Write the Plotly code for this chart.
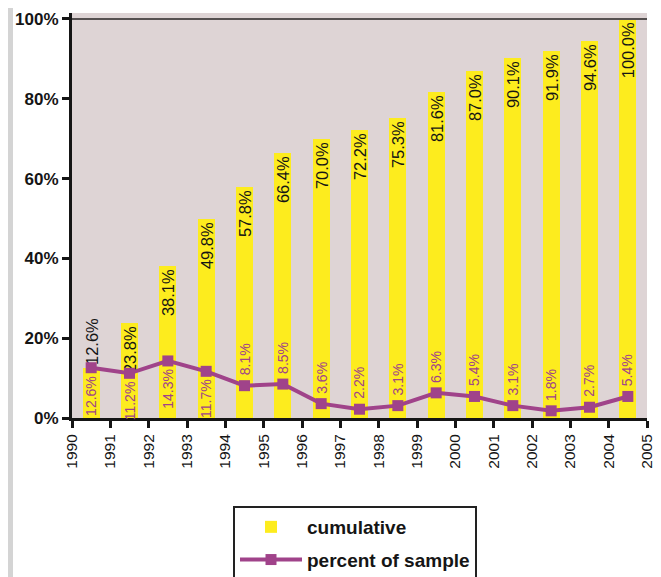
import plotly.graph_objects as go

years = list(range(1990, 2005))
tick_years = list(range(1990, 2006))
cumulative = [12.6, 23.8, 38.1, 49.8, 57.8, 66.4, 70.0, 72.2, 75.3, 81.6, 87.0, 90.1, 91.9, 94.6, 100.0]
percent = [12.6, 11.2, 14.3, 11.7, 8.1, 8.5, 3.6, 2.2, 3.1, 6.3, 5.4, 3.1, 1.8, 2.7, 5.4]
y_ticks = [0, 20, 40, 60, 80, 100]
y_ticktext = ["0%", "20%", "40%", "60%", "80%", "100%"]

FONT = "Liberation Sans, Arial, sans-serif"
YELLOW = "#fdec1e"
PURPLE = "#a0438a"
BG = "#ded4d5"
INK = "#151515"

xpos = [y + 0.5 for y in years]

fig = go.Figure()
fig.add_trace(go.Bar(
    x=xpos, y=cumulative, width=0.45, name="cumulative", legendgroup="a",
    marker=dict(color=YELLOW, line=dict(width=0)),
    text=[f"{v:.1f}%" for v in cumulative],
    textposition=["outside"] + ["inside"] * (len(cumulative) - 1),
    insidetextanchor="end", textangle=-90, constraintext="none", cliponaxis=False,
    textfont=dict(family=FONT, size=16.5, color=INK),
))
fig.add_trace(go.Scatter(
    x=xpos, y=percent, mode="lines+markers", name="percent of sample", legendgroup="b",
    line=dict(color=PURPLE, width=4),
    marker=dict(symbol="square", size=11, color=PURPLE),
))

for i, (xv, v) in enumerate(zip(xpos, percent)):
    below = i < 4
    fig.add_annotation(
        x=xv, y=v, text=f"{v:.1f}%", showarrow=False, textangle=-90,
        yanchor="top" if below else "bottom", yshift=-6 if below else 8,
        font=dict(family=FONT, size=14, color=PURPLE),
    )

# 100% reference line
fig.add_shape(type="line", xref="paper", x0=0, x1=1, yref="y", y0=100, y1=100,
              line=dict(color="#555050", width=2), layer="above")
# grey strip at left edge
fig.add_shape(type="rect", xref="paper", yref="paper",
              x0=-64 / 575, x1=-59 / 575, y0=-0.45, y1=1.03,
              fillcolor="#d4d4d4", line=dict(width=0), layer="below")

fig.update_layout(
    width=653, height=569,
    margin=dict(l=64, r=14, t=5, b=159, autoexpand=False),
    paper_bgcolor="white", plot_bgcolor=BG,
    showlegend=True, bargap=0,
    font=dict(family=FONT, color=INK),
    legend=dict(
        x=(233 - 72) / 575, y=(418 - 506) / 405, xanchor="left", yanchor="top",
        bordercolor="#222222", borderwidth=2, bgcolor="white",
        font=dict(family=FONT, size=19, color=INK, weight="bold"),
        itemwidth=62, traceorder="grouped", tracegroupgap=5,
    ),
    xaxis=dict(
        range=[1990, 2005], tickvals=tick_years, ticktext=[str(t) for t in tick_years],
        tickangle=-90, ticks="outside", ticklen=7, tickwidth=3, tickcolor=INK,
        showline=True, linecolor=INK, linewidth=3, showgrid=False, zeroline=False,
        automargin=False,
        tickfont=dict(family=FONT, size=15.5, color=INK),
    ),
    yaxis=dict(
        range=[0, 101.5], tickvals=y_ticks, ticktext=y_ticktext,
        ticks="outside", ticklen=7, tickwidth=3, tickcolor=INK,
        showline=True, linecolor=INK, linewidth=3, showgrid=False, zeroline=False,
        automargin=False,
        tickfont=dict(family=FONT, size=17, color=INK, weight="bold"),
    ),
)

fig.write_html("out.html")
